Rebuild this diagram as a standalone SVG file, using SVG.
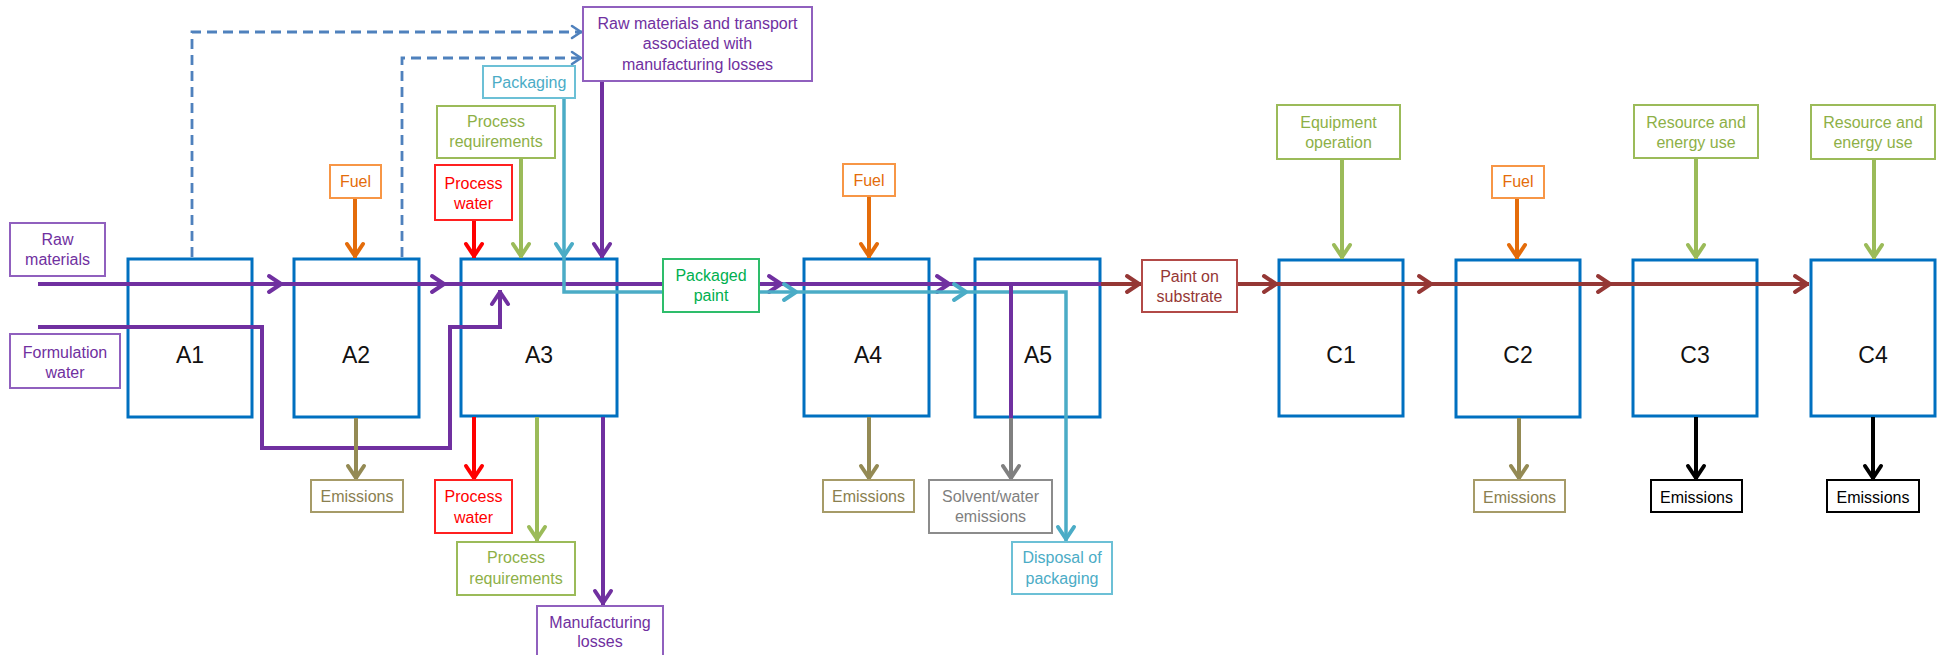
<svg xmlns="http://www.w3.org/2000/svg" width="1941" height="655" viewBox="0 0 1941 655">
<style>
text{font-family:"Liberation Sans",Arial,sans-serif;font-size:16px;text-anchor:middle}
.proc rect{fill:#fff;stroke:#0070C0;stroke-width:3}
.proc text{font-size:23px;fill:#111}
.lb rect{fill:#fff;stroke-width:2}
.pu rect{stroke:#9060BE}.pu text{fill:#7030A0}
.or rect{stroke:#F79646}.or text{fill:#E46C0A}
.rd rect{stroke:#FF2020}.rd text{fill:#FF0000}
.gr rect{stroke:#9BBB59}.gr text{fill:#8DB047}
.cy rect{stroke:#6CC0D6}.cy text{fill:#4BACC6}
.pg rect{stroke:#2EBD6B}.pg text{fill:#00B050}
.ol rect{stroke:#A69B68}.ol text{fill:#8A8050}
.gy rect{stroke:#8C8C8C}.gy text{fill:#7F7F7F}
.br rect{stroke:#B24A47}.br text{fill:#953735}
.bk rect{stroke:#000}.bk text{fill:#000}
.c{fill:none;stroke-width:4}
.cpu{stroke:#7030A0}.ccy{stroke:#4BACC6;stroke-width:3.5}.cor{stroke:#E46C0A}.crd{stroke:#FF0000}
.cgr{stroke:#9BBB59}.col{stroke:#948A54}.cgy{stroke:#808080}.cbr{stroke:#953735}.cbk{stroke:#000}
.dash{fill:none;stroke:#4F81BD;stroke-width:2.8;stroke-dasharray:10 6}
</style>
<defs>
<marker id="apu" viewBox="-18 -11 20 22" refX="0" refY="0" markerWidth="20" markerHeight="22" markerUnits="userSpaceOnUse" orient="auto"><path d="M-14,-8 L-2,0 L-14,8" fill="none" stroke="#7030A0" stroke-width="4" stroke-linejoin="round" stroke-linecap="round"/></marker>
<marker id="acy" viewBox="-18 -11 20 22" refX="0" refY="0" markerWidth="20" markerHeight="22" markerUnits="userSpaceOnUse" orient="auto"><path d="M-14,-8 L-2,0 L-14,8" fill="none" stroke="#4BACC6" stroke-width="4" stroke-linejoin="round" stroke-linecap="round"/></marker>
<marker id="aor" viewBox="-18 -11 20 22" refX="0" refY="0" markerWidth="20" markerHeight="22" markerUnits="userSpaceOnUse" orient="auto"><path d="M-14,-8 L-2,0 L-14,8" fill="none" stroke="#E46C0A" stroke-width="4" stroke-linejoin="round" stroke-linecap="round"/></marker>
<marker id="ard" viewBox="-18 -11 20 22" refX="0" refY="0" markerWidth="20" markerHeight="22" markerUnits="userSpaceOnUse" orient="auto"><path d="M-14,-8 L-2,0 L-14,8" fill="none" stroke="#FF0000" stroke-width="4" stroke-linejoin="round" stroke-linecap="round"/></marker>
<marker id="agr" viewBox="-18 -11 20 22" refX="0" refY="0" markerWidth="20" markerHeight="22" markerUnits="userSpaceOnUse" orient="auto"><path d="M-14,-8 L-2,0 L-14,8" fill="none" stroke="#9BBB59" stroke-width="4" stroke-linejoin="round" stroke-linecap="round"/></marker>
<marker id="aol" viewBox="-18 -11 20 22" refX="0" refY="0" markerWidth="20" markerHeight="22" markerUnits="userSpaceOnUse" orient="auto"><path d="M-14,-8 L-2,0 L-14,8" fill="none" stroke="#948A54" stroke-width="4" stroke-linejoin="round" stroke-linecap="round"/></marker>
<marker id="agy" viewBox="-18 -11 20 22" refX="0" refY="0" markerWidth="20" markerHeight="22" markerUnits="userSpaceOnUse" orient="auto"><path d="M-14,-8 L-2,0 L-14,8" fill="none" stroke="#808080" stroke-width="4" stroke-linejoin="round" stroke-linecap="round"/></marker>
<marker id="abr" viewBox="-18 -11 20 22" refX="0" refY="0" markerWidth="20" markerHeight="22" markerUnits="userSpaceOnUse" orient="auto"><path d="M-14,-8 L-2,0 L-14,8" fill="none" stroke="#953735" stroke-width="4" stroke-linejoin="round" stroke-linecap="round"/></marker>
<marker id="abk" viewBox="-18 -11 20 22" refX="0" refY="0" markerWidth="20" markerHeight="22" markerUnits="userSpaceOnUse" orient="auto"><path d="M-14,-8 L-2,0 L-14,8" fill="none" stroke="#000" stroke-width="4" stroke-linejoin="round" stroke-linecap="round"/></marker>
<marker id="ads" viewBox="-14 -8 16 16" refX="0" refY="0" markerWidth="16" markerHeight="16" markerUnits="userSpaceOnUse" orient="auto"><path d="M-10,-6 L-1,0 L-10,6" fill="none" stroke="#4F81BD" stroke-width="2.6" stroke-linejoin="round" stroke-linecap="round"/></marker>
</defs>

<g id="A1" class="proc"><rect x="128" y="259" width="124" height="158"/><text x="190" y="363">A1</text></g>
<g id="A2" class="proc"><rect x="294" y="259" width="125" height="158"/><text x="356" y="363">A2</text></g>
<g id="A3" class="proc"><rect x="461" y="259" width="156" height="157"/><text x="539" y="363">A3</text></g>
<g id="A4" class="proc"><rect x="804" y="259" width="125" height="157"/><text x="868" y="363">A4</text></g>
<g id="A5" class="proc"><rect x="975" y="259" width="125" height="158"/><text x="1038" y="363">A5</text></g>
<g id="C1" class="proc"><rect x="1279" y="260" width="124" height="156"/><text x="1341" y="363">C1</text></g>
<g id="C2" class="proc"><rect x="1456" y="260" width="124" height="157"/><text x="1518" y="363">C2</text></g>
<g id="C3" class="proc"><rect x="1633" y="260" width="124" height="156"/><text x="1695" y="363">C3</text></g>
<g id="C4" class="proc"><rect x="1811" y="260" width="124" height="156"/><text x="1873" y="363">C4</text></g>

<g id="connectors">
<path class="dash" d="M192,257 V32 H582" marker-end="url(#ads)"/>
<path class="dash" d="M402,257 V58 H582" marker-end="url(#ads)"/>
<path class="c cpu" d="M38,284 H283" marker-end="url(#apu)"/>
<path class="c cpu" d="M283,284 H446" marker-end="url(#apu)"/>
<path class="c cpu" d="M446,284 H663"/>
<path class="c cpu" d="M759,284 H783" marker-end="url(#apu)"/>
<path class="c cpu" d="M783,284 H951" marker-end="url(#apu)"/>
<path class="c cpu" d="M951,284 H1101"/>
<path class="c cpu" d="M38,327 H262 V448 H450 V327 H500 V290" marker-end="url(#apu)"/>
<path class="c ccy" d="M564,98 V258" marker-end="url(#acy)"/>
<path class="c ccy" d="M564,258 V292 H663"/>
<path class="c ccy" d="M759,292 H798" marker-end="url(#acy)"/>
<path class="c ccy" d="M798,292 H968" marker-end="url(#acy)"/>
<path class="c ccy" d="M968,292 H1066 V541" marker-end="url(#acy)"/>
<path class="c cpu" d="M602,81 V258" marker-end="url(#apu)"/>
<path class="c cor" d="M355,198 V258" marker-end="url(#aor)"/>
<path class="c crd" d="M474,220 V258" marker-end="url(#ard)"/>
<path class="c cgr" d="M521,158 V258" marker-end="url(#agr)"/>
<path class="c cor" d="M869,196 V258" marker-end="url(#aor)"/>
<path class="c cgr" d="M1342,159 V259" marker-end="url(#agr)"/>
<path class="c cor" d="M1517,198 V259" marker-end="url(#aor)"/>
<path class="c cgr" d="M1696,158 V259" marker-end="url(#agr)"/>
<path class="c cgr" d="M1874,159 V259" marker-end="url(#agr)"/>
<path class="c col" d="M356,418 V480" marker-end="url(#aol)"/>
<path class="c crd" d="M474,417 V480" marker-end="url(#ard)"/>
<path class="c cgr" d="M537,417 V541" marker-end="url(#agr)"/>
<path class="c cpu" d="M603,417 V605" marker-end="url(#apu)"/>
<path class="c col" d="M869,417 V480" marker-end="url(#aol)"/>
<path class="c cpu" d="M1011,284 V418"/>
<path class="c cgy" d="M1011,418 V480" marker-end="url(#agy)"/>
<path class="c col" d="M1519,418 V480" marker-end="url(#aol)"/>
<path class="c cbk" d="M1696,417 V480" marker-end="url(#abk)"/>
<path class="c cbk" d="M1873,417 V480" marker-end="url(#abk)"/>
<path class="c cbr" d="M1101,284 H1141" marker-end="url(#abr)"/>
<path class="c cbr" d="M1237,284 H1278" marker-end="url(#abr)"/>
<path class="c cbr" d="M1278,284 H1433" marker-end="url(#abr)"/>
<path class="c cbr" d="M1433,284 H1612" marker-end="url(#abr)"/>
<path class="c cbr" d="M1612,284 H1809" marker-end="url(#abr)"/>
</g>

<g id="raw-materials" class="lb pu"><rect x="10" y="223" width="95" height="53"/><text x="57.5" y="245">Raw</text><text x="57.5" y="265">materials</text></g>
<g id="formulation-water" class="lb pu"><rect x="10" y="334" width="110" height="54"/><text x="65" y="357.5">Formulation</text><text x="65" y="377.5">water</text></g>
<g id="fuel-a2" class="lb or"><rect x="330" y="165" width="51" height="33"/><text x="355.5" y="187">Fuel</text></g>
<g id="process-water-in" class="lb rd"><rect x="435" y="165" width="77" height="55"/><text x="473.5" y="188.5">Process</text><text x="473.5" y="208.5">water</text></g>
<g id="process-req-in" class="lb gr"><rect x="437" y="106" width="118" height="52"/><text x="496" y="127">Process</text><text x="496" y="147">requirements</text></g>
<g id="packaging" class="lb cy"><rect x="483" y="66" width="92" height="32"/><text x="529" y="87.5">Packaging</text></g>
<g id="raw-transport" class="lb pu"><rect x="583" y="7" width="229" height="74"/><text x="697.5" y="28.5">Raw materials and transport</text><text x="697.5" y="49">associated with</text><text x="697.5" y="70">manufacturing losses</text></g>
<g id="packaged-paint" class="lb pg"><rect x="663" y="259" width="96" height="53"/><text x="711" y="281">Packaged</text><text x="711" y="301">paint</text></g>
<g id="fuel-a4" class="lb or"><rect x="843" y="164" width="52" height="32"/><text x="869" y="186">Fuel</text></g>
<g id="emissions-a2" class="lb ol"><rect x="311" y="480" width="92" height="32"/><text x="357" y="502">Emissions</text></g>
<g id="process-water-out" class="lb rd"><rect x="435" y="480" width="77" height="53"/><text x="473.5" y="502">Process</text><text x="473.5" y="522.5">water</text></g>
<g id="process-req-out" class="lb gr"><rect x="457" y="542" width="118" height="53"/><text x="516" y="563">Process</text><text x="516" y="583.5">requirements</text></g>
<g id="manufacturing-losses" class="lb pu"><rect x="537" y="606" width="126" height="55"/><text x="600" y="627.5">Manufacturing</text><text x="600" y="647">losses</text></g>
<g id="emissions-a4" class="lb ol"><rect x="823" y="480" width="91" height="32"/><text x="868.5" y="502">Emissions</text></g>
<g id="solvent-water" class="lb gy"><rect x="929" y="480" width="123" height="53"/><text x="990.5" y="502">Solvent/water</text><text x="990.5" y="522">emissions</text></g>
<g id="disposal-packaging" class="lb cy"><rect x="1012" y="542" width="100" height="52"/><text x="1062" y="562.5">Disposal of</text><text x="1062" y="584">packaging</text></g>
<g id="paint-substrate" class="lb br"><rect x="1142" y="260" width="95" height="52"/><text x="1189.5" y="282">Paint on</text><text x="1189.5" y="302">substrate</text></g>
<g id="equipment-operation" class="lb gr"><rect x="1277" y="105" width="123" height="54"/><text x="1338.5" y="127.5">Equipment</text><text x="1338.5" y="147.5">operation</text></g>
<g id="fuel-c2" class="lb or"><rect x="1492" y="166" width="52" height="32"/><text x="1518" y="187">Fuel</text></g>
<g id="resource-c3" class="lb gr"><rect x="1634" y="105" width="124" height="53"/><text x="1696" y="127.5">Resource and</text><text x="1696" y="147.5">energy use</text></g>
<g id="resource-c4" class="lb gr"><rect x="1811" y="105" width="124" height="54"/><text x="1873" y="127.5">Resource and</text><text x="1873" y="147.5">energy use</text></g>
<g id="emissions-c2" class="lb ol"><rect x="1474" y="480" width="91" height="32"/><text x="1519.5" y="502.5">Emissions</text></g>
<g id="emissions-c3" class="lb bk"><rect x="1651" y="480" width="91" height="32"/><text x="1696.5" y="502.5">Emissions</text></g>
<g id="emissions-c4" class="lb bk"><rect x="1827" y="480" width="92" height="32"/><text x="1873" y="502.5">Emissions</text></g>
</svg>
